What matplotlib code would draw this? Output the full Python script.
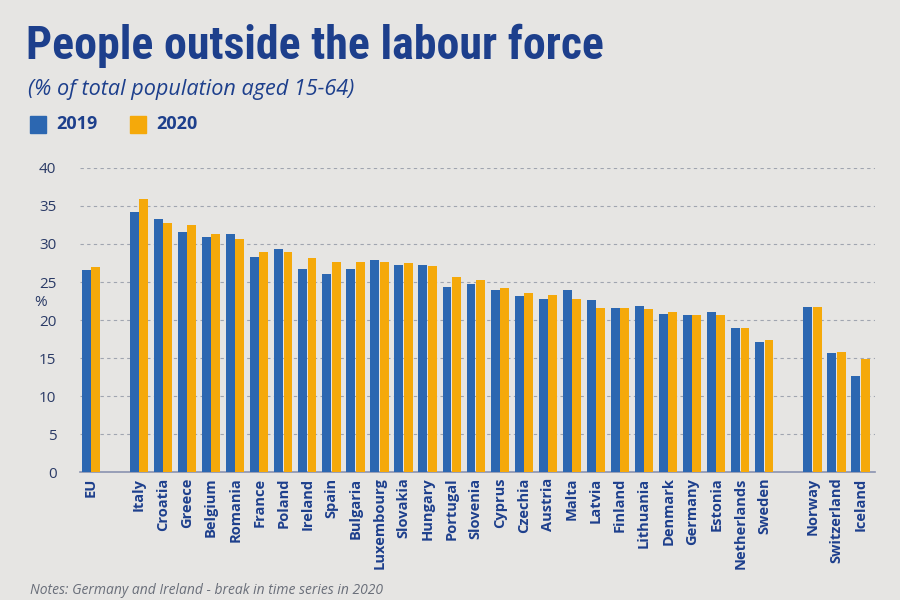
import numpy as np
import matplotlib.pyplot as plt
from matplotlib.patches import Rectangle
from matplotlib import font_manager

# ------------------------------
# Data (% of total population aged 15-64)
countries = ["EU", "Italy", "Croatia", "Greece", "Belgium", "Romania", "France", "Poland",
             "Ireland", "Spain", "Bulgaria", "Luxembourg", "Slovakia", "Hungary", "Portugal",
             "Slovenia", "Cyprus", "Czechia", "Austria", "Malta", "Latvia", "Finland",
             "Lithuania", "Denmark", "Germany", "Estonia", "Netherlands", "Sweden",
             "Norway", "Switzerland", "Iceland"]
v2019 = [26.6, 34.2, 33.3, 31.6, 30.9, 31.3, 28.3, 29.3, 26.7, 26.1, 26.7, 27.9, 27.2, 27.3,
         24.4, 24.7, 23.9, 23.2, 22.8, 24.0, 22.6, 21.6, 21.9, 20.8, 20.7, 21.0, 19.0, 17.1,
         21.7, 15.7, 12.6]
v2020 = [27.0, 35.9, 32.8, 32.5, 31.3, 30.7, 28.9, 28.9, 28.1, 27.6, 27.6, 27.6, 27.5, 27.1,
         25.6, 25.3, 24.2, 23.5, 23.3, 22.8, 21.6, 21.6, 21.4, 21.0, 20.7, 20.6, 19.0, 17.4,
         21.7, 15.8, 14.9]
yticks = [0, 5, 10, 15, 20, 25, 30, 35, 40]

# ------------------------------
# Slot positions: EU, gap, EU members, gap, EFTA
pos = np.array([0] + list(range(2, 29)) + [30, 31, 32], dtype=float)

bg = "#e6e5e3"
blue = "#2c67b1"
orange = "#f5a90a"
navy = "#1d3f8c"
txt = "#2a3a66"

names = {f.name for f in font_manager.fontManager.ttflist}
narrow = [n for n in ['Roboto Condensed', 'Open Sans Condensed', 'Liberation Sans Narrow']
          if n in names]
title_family = narrow + ['Lato', 'DejaVu Sans']

plt.rcParams['font.family'] = ['Open Sans', 'DejaVu Sans']

fig = plt.figure(figsize=(9, 6), dpi=100, facecolor=bg)
ax = fig.add_axes([80 / 900, 128 / 600, 795 / 900, 304 / 600])
ax.set_facecolor(bg)

w = 0.37
ax.bar(pos - w / 2 - 0.01, v2019, width=w, color=blue, zorder=3)
ax.bar(pos + w / 2 + 0.01, v2020, width=w, color=orange, zorder=3)

ax.set_ylim(0, 40)
ax.set_xlim(-0.45, 32.6)
ax.set_yticks(yticks)
ax.set_yticklabels([str(t) for t in yticks], fontsize=11, color=txt)
ax.tick_params(axis='y', length=0, pad=17)
ax.set_xticks(pos)
ax.set_xticklabels(countries, rotation=90, fontsize=10.5, fontweight='bold', color=navy)
ax.tick_params(axis='x', length=0, pad=4)

for t in yticks[1:]:
    ax.axhline(t, color="#a0a5b0", linestyle=(0, (3, 3)), linewidth=0.8, zorder=1)

for s in ['top', 'right', 'left']:
    ax.spines[s].set_visible(False)
ax.spines['bottom'].set_color("#8a93b0")
ax.spines['bottom'].set_linewidth(1.2)

fig.text(41 / 900, 1 - 303 / 600, "%", fontsize=11, color=txt, ha='center', va='center')

# ------------------------------
# Title block
fig.text(26 / 900, 1 - 46 / 600, "People outside the labour force", fontsize=33,
         fontweight='bold', color=navy, ha='left', va='center', family=title_family)
fig.text(28 / 900, 1 - 89 / 600, "(% of total population aged 15-64)", fontsize=15.6,
         style='italic', color=navy, ha='left', va='center')

fig.patches.append(Rectangle((30 / 900, 1 - 133 / 600), 16 / 900, 17 / 600,
                             transform=fig.transFigure, color=blue))
fig.text(56 / 900, 1 - 124 / 600, "2019", fontsize=13, fontweight='bold', color=navy,
         ha='left', va='center')
fig.patches.append(Rectangle((130 / 900, 1 - 133 / 600), 16 / 900, 17 / 600,
                             transform=fig.transFigure, color=orange))
fig.text(156 / 900, 1 - 124 / 600, "2020", fontsize=13, fontweight='bold', color=navy,
         ha='left', va='center')

fig.text(30 / 900, 1 - 591 / 600, "Notes: Germany and Ireland - break in time series in 2020",
         fontsize=10, style='italic', color="#6a6f7a", ha='left', va='center')

fig.savefig("out.png", dpi=100, facecolor=bg)
